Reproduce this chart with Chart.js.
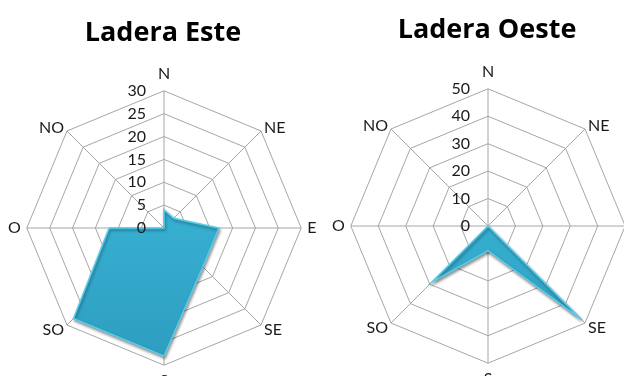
<!DOCTYPE html>
<html>
<head>
<meta charset="utf-8">
<script src="https://cdn.jsdelivr.net/npm/chart.js@4"></script>
<style>
  html, body { margin: 0; padding: 0; background: #fff; overflow: hidden; width: 624px; height: 376px; }
  .box { position: absolute; top: 0; width: 312px; height: 400px; }
  #boxEste { left: 7px; }
  #boxOeste { left: 331px; }
</style>
</head>
<body>
<div class="box" id="boxEste"><canvas id="chartEste" width="312" height="400"></canvas></div>
<div class="box" id="boxOeste"><canvas id="chartOeste" width="312" height="400"></canvas></div>
<script>
const directions = ['N', 'NE', 'E', 'SE', 'S', 'SO', 'O', 'NO'];
const esteValues = [4, 3, 12, 12, 28, 28, 12, 0];
const oesteValues = [0, 0, 0, 48, 9, 29, 0, 0];
const esteTicks = [0, 5, 10, 15, 20, 25, 30];
const oesteTicks = [0, 10, 20, 30, 40, 50];

const fontFamily = 'Lato, "Open Sans", sans-serif';

// Excel-like labels: ticks left of the N axis, direction names hugging the vertices
const excelLabels = {
    id: 'excelLabels',
    beforeDatasetsDraw(chart) {
        // soft shadow under the filled area
        const c = chart.ctx;
        c.save();
        c.shadowColor = 'rgba(0, 0, 0, 0.4)';
        c.shadowBlur = 3;
        c.shadowOffsetX = 1;
        c.shadowOffsetY = 2;
    },
    afterDatasetsDraw(chart, args, opts) {
        chart.ctx.restore();
        const r = chart.scales.r;
        const c = chart.ctx;
        c.save();
        c.font = '16px ' + fontFamily;
        c.fillStyle = '#1a1a1a';
        c.textAlign = 'right';
        c.textBaseline = 'middle';
        opts.ticks.forEach(v => {
            const d = r.getDistanceFromCenterForValue(v);
            c.fillText(String(v), r.xCenter - 18, r.yCenter - d);
        });

        chart.data.labels.forEach((lab, i) => {
            const p = r.getPointPosition(i, r.drawingArea);
            const dx = p.x - r.xCenter;
            const dy = p.y - r.yCenter;
            let x = p.x, y = p.y;
            if (Math.abs(dx) < 1) {
                c.textAlign = 'center';
                y += dy < 0 ? -17 : 16;
            } else {
                const diag = Math.abs(dy) > 1;
                c.textAlign = dx > 0 ? 'left' : 'right';
                x += (dx > 0 ? 1 : -1) * (diag ? 3 : 6);
                if (diag) y += dy < 0 ? -3 : 5;
            }
            c.fillText(lab, x, y);
        });
        c.restore();
    }
};

function fillGradient(context) {
    const chart = context.chart;
    const area = chart.chartArea;
    if (!area) return '#36AED0';
    const g = chart.ctx.createLinearGradient(0, area.top, 0, area.bottom);
    g.addColorStop(0, '#4CC3E2');
    g.addColorStop(0.5, '#36AED0');
    g.addColorStop(1, '#2B98BB');
    return g;
}

function makeRadar(id, title, values, ticks, pad) {
    return new Chart(document.getElementById(id), {
        type: 'radar',
        data: {
            labels: directions,
            datasets: [{
                data: values,
                backgroundColor: fillGradient,
                borderColor: '#58CDEA',
                borderWidth: 1.5,
                pointRadius: 0,
                fill: true
            }]
        },
        options: {
            responsive: false,
            animation: false,
            layout: { padding: pad },
            plugins: {
                legend: { display: false },
                tooltip: { enabled: false },
                title: {
                    display: true,
                    text: title,
                    color: '#000',
                    font: { family: '"Open Sans", Lato, sans-serif', size: 27, weight: 'bold' },
                    padding: { top: 9, bottom: 8 }
                },
                excelLabels: { ticks: ticks }
            },
            scales: {
                r: {
                    min: ticks[0],
                    max: ticks[ticks.length - 1],
                    ticks: { stepSize: ticks[1] - ticks[0], display: false },
                    grid: { color: '#A6A6A6', lineWidth: 1 },
                    angleLines: { color: '#A6A6A6', lineWidth: 1 },
                    pointLabels: {
                        // kept for layout space only, drawn by excelLabels
                        color: 'rgba(0,0,0,0)',
                        padding: 6,
                        font: { family: fontFamily, size: 16 }
                    }
                }
            }
        },
        plugins: [excelLabels]
    });
}

makeRadar('chartEste', 'Ladera Este', esteValues, esteTicks, { top: 8, bottom: 1 });
makeRadar('chartOeste', 'Ladera Oeste', oesteValues, oesteTicks, { top: 5, bottom: 2 });
</script>
</body>
</html>
